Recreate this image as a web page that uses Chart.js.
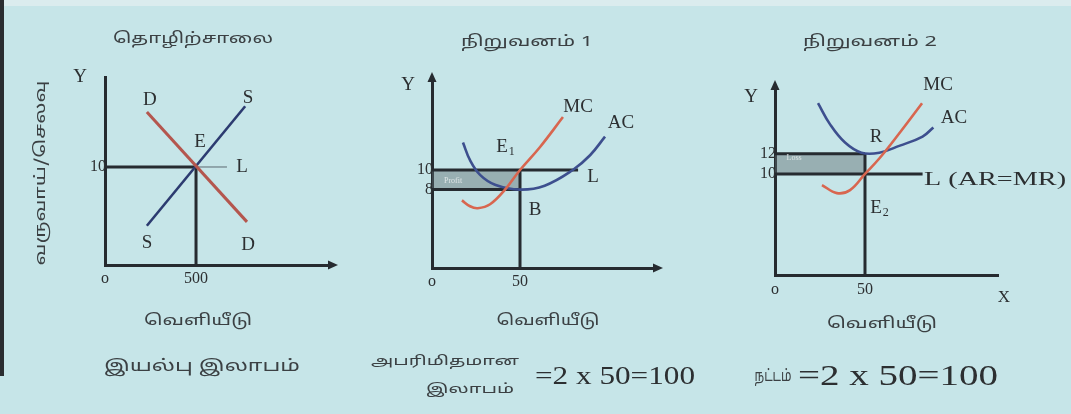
<!DOCTYPE html>
<html><head><meta charset="utf-8">
<script src="https://cdn.jsdelivr.net/npm/chart.js@4.4.1/dist/chart.umd.min.js"></script>
<style>
html,body{margin:0;padding:0;width:1071px;height:414px;overflow:hidden;background:#c6e5e8;}
#strip{position:absolute;left:0;top:0;width:1071px;height:6px;background:#dbecee;}
#edge{position:absolute;left:0;top:0;width:4px;height:376px;background:#2a2d30;}
.p{position:absolute;top:0;height:414px;}
</style></head><body>
<div id="strip"></div><div id="edge"></div>
<div class="p" style="left:0;width:357px"><canvas id="c1"></canvas></div>
<div class="p" style="left:357px;width:357px"><canvas id="c2"></canvas></div>
<div class="p" style="left:714px;width:357px"><canvas id="c3"></canvas></div>
<script>
// ---------- DATA ----------
// Panel 1: industry (price vs output)
const industryXTicks = [0, 500];
const industryYTicks = [10];
const industryDemand = [[230, 15.6], [780, 4.4]];
const industrySupply = [[230, 4.0], [770, 16.2]];
const industryPriceLine = [[0, 10], [500, 10]];
const industryQtyLine = [[500, 0], [500, 10]];
const industryArLine = [[500, 10], [670, 10]];

// Panel 2: firm 1 (supernormal profit)
const firm1XTicks = [0, 50];
const firm1YTicks = [8, 10];
const firm1MC = [[17, 6.9], [21.6, 6.3], [26, 6.1], [33, 6.5], [41.5, 8.0], [50, 10], [61.4, 12.35], [74.4, 15.4]];
const firm1AC = [[17.6, 12.8], [21.6, 11.0], [27.3, 9.5], [35.8, 8.5], [50, 8.0], [64, 8.4], [80, 10], [89.8, 11.5], [98.3, 13.4]];
const firm1ArLine = [[0, 10], [83, 10]];
const firm1CostLine = [[0, 8], [50, 8]];
const firm1QtyLine = [[50, 0], [50, 10]];
const firm1ProfitTop = [[0, 10], [50, 10]];
const firm1ProfitBottom = [[0, 8], [50, 8]];

// Panel 3: firm 2 (loss)
const firm2XTicks = [0, 50];
const firm2YTicks = [10, 12];
const firm2MC = [[26.1, 8.9], [34.4, 8.1], [41.7, 8.4], [50, 10], [58.3, 11.6], [69.4, 14.1], [81.7, 17.0]];
const firm2AC = [[23.9, 17.0], [30.6, 14.9], [38.9, 13.1], [48, 12.1], [58, 12.1], [69.4, 12.8], [82, 13.7], [88, 14.6]];
const firm2ArLine = [[0, 10], [82, 10]];
const firm2CostLine = [[0, 12], [50, 12]];
const firm2QtyLine = [[50, 0], [50, 12]];
const firm2LossTop = [[0, 12], [50, 12]];
const firm2LossBottom = [[0, 10], [50, 10]];

// ---------- STYLE ----------
const AXIS = '#262b30';
const TEXT = '#2c2f31';
const TTEXT = '#3b4043';
const RED = '#d8664f';
const BLUE = '#3d4f8e';
const SERIF = '"Liberation Serif", "Times New Roman", serif';
const TAMIL = '"Noto Sans Tamil", "Lohit Tamil", "Noto Sans", sans-serif';
const BOXFILL = 'rgba(95,108,112,0.45)';

const pts = a => a.map(([x, y]) => ({x, y}));
function line(data, color, width, extra) {
  return Object.assign({data: pts(data), borderColor: color, borderWidth: width, pointRadius: 0,
    tension: 0, fill: false, clip: false}, extra || {});
}
function curve(data, color) {
  return line(data, color, 2.6, {tension: 0.4});
}

const notesPlugin = {
  id: 'notes',
  afterDraw(chart, args, opts) {
    const {ctx, chartArea: a} = chart;
    const xs = chart.scales.x, ys = chart.scales.y;
    ctx.save();
    ctx.fillStyle = AXIS;
    if (opts.arrowX) {
      const px = a.right + 1, py = a.bottom;
      ctx.beginPath(); ctx.moveTo(px + 7, py); ctx.lineTo(px - 3, py - 4.5); ctx.lineTo(px - 3, py + 4.5); ctx.closePath(); ctx.fill();
    }
    if (opts.arrowY) {
      const px = a.left, py = a.top - 1;
      ctx.beginPath(); ctx.moveTo(px, py - 7); ctx.lineTo(px - 4.5, py + 3); ctx.lineTo(px + 4.5, py + 3); ctx.closePath(); ctx.fill();
    }
    for (const n of (opts.items || [])) {
      let px, py;
      if (n.data) { px = xs.getPixelForValue(n.x); py = ys.getPixelForValue(n.y); }
      else { px = n.x; py = n.y; }
      ctx.save();
      ctx.font = n.font;
      ctx.fillStyle = n.color || TEXT;
      ctx.textAlign = n.align || 'center';
      ctx.textBaseline = 'middle';
      ctx.translate(px, py);
      if (n.rot) ctx.rotate(n.rot);
      const m = ctx.measureText(n.text).width;
      if (n.w && m > 0) ctx.scale(n.w / m, 1);
      ctx.fillText(n.text, 0, 0);
      if (n.sub) {
        const right = (n.align === 'left') ? m : m / 2;
        ctx.font = n.subFont;
        ctx.textAlign = 'left';
        ctx.fillText(n.sub, right + 1, 5);
      }
      ctx.restore();
    }
    ctx.restore();
  }
};
Chart.register(notesPlugin);

function makeScales(o) {
  const tickFont = {family: SERIF, size: 16};
  return {
    x: {
      type: 'linear', min: 0, max: o.xMax,
      grid: {display: false, drawTicks: false},
      border: {display: true, color: AXIS, width: 3},
      afterBuildTicks(s) { s.ticks = o.xTicks.map(v => ({value: v})); },
      afterFit(s) { s.height = o.xH; },
      ticks: {padding: o.xPad, font: tickFont, color: TEXT, autoSkip: false, maxRotation: 0,
        callback: v => (v === 0 ? 'o' : String(v))}
    },
    y: {
      type: 'linear', min: 0, max: o.yMax,
      grid: {display: false, drawTicks: false},
      border: {display: true, color: AXIS, width: 3},
      afterBuildTicks(s) { s.ticks = o.yTicks.map(v => ({value: v})); },
      afterFit(s) { s.width = o.yW; },
      ticks: {padding: -1, font: tickFont, color: TEXT, autoSkip: false,
        callback: v => String(v)}
    }
  };
}

function makeChart(id, datasets, o, notes) {
  return new Chart(document.getElementById(id), {
    type: 'line',
    data: {datasets},
    options: {
      responsive: true, maintainAspectRatio: false, animation: false,
      layout: {padding: {left: 0, top: o.top, right: o.right, bottom: 0}},
      scales: makeScales(o),
      plugins: {
        legend: {display: false}, tooltip: {enabled: false},
        filler: {drawTime: 'beforeDatasetsDraw'},
        notes
      }
    }
  });
}

const LAB = '19px ' + SERIF;
const TAM = '15px ' + TAMIL;

// Panel 1
makeChart('c1', [
  line(industryDemand, '#b4564e', 3),
  line(industrySupply, '#2c3b70', 2.6),
  line(industryPriceLine, AXIS, 3),
  line(industryQtyLine, AXIS, 3),
  line(industryArLine, '#7f9298', 1.5)
], {xMax: 1236, yMax: 19.18, xTicks: industryXTicks, yTicks: industryYTicks, top: 77, right: 27, yW: 105, xH: 149, xPad: 4},
{
  arrowX: true, arrowY: false,
  items: [
    {text: 'தொழிற்சாலை', x: 193, y: 40, font: TAM, color: TTEXT, w: 160},
    {text: 'வருவாய்/செலவு', x: 42, y: 173, font: TAM, color: TTEXT, rot: -Math.PI / 2, w: 185},
    {text: 'வெளியீடு', x: 198, y: 322, font: TAM, color: TTEXT, w: 108},
    {text: 'இயல்பு இலாபம்', x: 202, y: 368, font: '16px ' + TAMIL, color: TTEXT, w: 196},
    {text: 'Y', x: -137, y: 19.2, data: true, font: LAB},
    {text: 'D', x: 247, y: 16.8, data: true, font: LAB},
    {text: 'S', x: 786, y: 17.0, data: true, font: LAB},
    {text: 'E', x: 522, y: 12.5, data: true, font: LAB},
    {text: 'L', x: 753, y: 10, data: true, font: LAB},
    {text: 'S', x: 231, y: 2.2, data: true, font: LAB},
    {text: 'D', x: 786, y: 2.0, data: true, font: LAB}
  ]
});

// Panel 2
makeChart('c2', [
  curve(firm1MC, RED),
  curve(firm1AC, BLUE),
  line(firm1ArLine, AXIS, 3),
  line(firm1CostLine, AXIS, 3),
  line(firm1QtyLine, AXIS, 3),
  line(firm1ProfitTop, 'rgba(0,0,0,0)', 0, {fill: '+1', backgroundColor: BOXFILL}),
  line(firm1ProfitBottom, 'rgba(0,0,0,0)', 0)
], {xMax: 126.7, yMax: 19.18, xTicks: firm1XTicks, yTicks: firm1YTicks, top: 80, right: 59, yW: 75, xH: 146, xPad: 4},
{
  arrowX: true, arrowY: true,
  items: [
    {text: 'நிறுவனம் 1', x: 170, y: 43, font: TAM, color: TTEXT, w: 132},
    {text: 'வெளியீடு', x: 191, y: 322, font: TAM, color: TTEXT, w: 103},
    {text: 'அபரிமிதமான', x: 88, y: 362, font: '13px ' + TAMIL, color: TTEXT, w: 148},
    {text: 'இலாபம்', x: 113, y: 390, font: '13px ' + TAMIL, color: TTEXT, w: 88},
    {text: '=2 x 50=100', x: 258, y: 377, font: '26px ' + SERIF, color: TEXT, w: 160},
    {text: 'Y', x: -13.6, y: 18.7, data: true, font: LAB},
    {text: 'MC', x: 83, y: 16.4, data: true, font: LAB},
    {text: 'AC', x: 107.4, y: 14.8, data: true, font: LAB},
    {text: 'E', sub: '1', subFont: '12px ' + SERIF, x: 39.8, y: 12.35, data: true, font: LAB},
    {text: 'L', x: 91.5, y: 9.3, data: true, font: LAB},
    {text: 'B', x: 58.5, y: 5.9, data: true, font: LAB},
    {text: 'Profit', x: 12, y: 8.9, data: true, font: '8px ' + SERIF, color: '#dfe6e6'}
  ]
});

// Panel 3
makeChart('c3', [
  curve(firm2MC, RED),
  curve(firm2AC, BLUE),
  line(firm2ArLine, AXIS, 3),
  line(firm2CostLine, AXIS, 3),
  line(firm2QtyLine, AXIS, 3),
  line(firm2LossTop, 'rgba(0,0,0,0)', 0, {fill: '+1', backgroundColor: BOXFILL}),
  line(firm2LossBottom, 'rgba(0,0,0,0)', 0)
], {xMax: 123.9, yMax: 18.5, xTicks: firm2XTicks, yTicks: firm2YTicks, top: 88, right: 73, yW: 61, xH: 139, xPad: 5},
{
  arrowX: false, arrowY: true,
  items: [
    {text: 'நிறுவனம் 2', x: 156, y: 43, font: TAM, color: TTEXT, w: 134},
    {text: 'வெளியீடு', x: 168, y: 325, font: TAM, color: TTEXT, w: 110},
    {text: 'நட்டம்', x: 59, y: 378, font: '16px ' + TAMIL, color: TTEXT, w: 37},
    {text: '=2 x 50=100', x: 184, y: 377, font: '30px ' + SERIF, color: TEXT, w: 200},
    {text: 'Y', x: -13.3, y: 17.6, data: true, font: LAB},
    {text: 'X', x: 127.2, y: -2.2, data: true, font: '17px ' + SERIF},
    {text: 'MC', x: 90.6, y: 18.8, data: true, font: LAB},
    {text: 'AC', x: 99.4, y: 15.5, data: true, font: LAB},
    {text: 'R', x: 56.1, y: 13.7, data: true, font: LAB},
    {text: 'E', sub: '2', subFont: '12px ' + SERIF, x: 56.1, y: 6.6, data: true, font: LAB},
    {text: 'L (AR=MR)', x: 82.8, y: 9.4, data: true, font: '18px ' + SERIF, align: 'left', w: 142},
    {text: 'Loss', x: 10.6, y: 11.6, data: true, font: '8px ' + SERIF, color: '#dfe6e6'}
  ]
});
</script>
</body></html>
